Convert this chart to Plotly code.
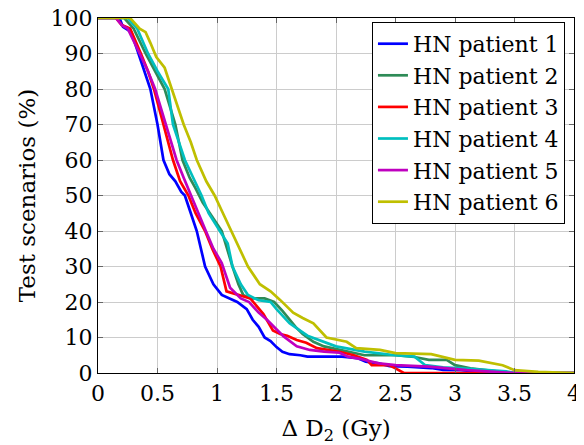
import plotly.graph_objects as go

names = ["HN patient 1", "HN patient 2", "HN patient 3", "HN patient 4", "HN patient 5", "HN patient 6"]
colors = ["#0000ff", "#2e8b57", "#ff0000", "#00bfbf", "#bf00bf", "#bfbf00"]

x1 = [0, 0.18, 0.21, 0.28, 0.34, 0.40, 0.44, 0.50, 0.55, 0.60, 0.65, 0.70, 0.73, 0.78, 0.83, 0.90, 0.97, 1.04, 1.10, 1.17, 1.25, 1.30, 1.35, 1.40, 1.45, 1.50, 1.55, 1.61, 1.70, 1.76, 1.90, 2.05, 2.18, 2.25, 2.36, 2.45, 2.6, 2.8, 2.9, 3.05, 3.2, 3.3, 4.0]
y1 = [100, 100, 97.5, 96, 90, 84, 80, 70, 60, 56, 54, 51, 50, 45, 40, 30, 25, 22, 21, 20, 18, 15, 13, 10, 9, 7.3, 6, 5.3, 5, 4.6, 4.6, 4.6, 4.2, 3.2, 2.7, 1.9, 1.8, 1.4, 0.9, 0.8, 0.4, 0, 0]

x2 = [0, 0.22, 0.3, 0.4, 0.56, 0.65, 0.71, 0.77, 0.82, 0.88, 0.94, 1.04, 1.13, 1.18, 1.22, 1.28, 1.4, 1.48, 1.55, 1.61, 1.66, 1.72, 1.81, 1.9, 2.03, 2.24, 2.5, 2.66, 2.78, 2.93, 3.0, 3.13, 3.35, 3.45, 4.0]
y2 = [100, 100, 97, 90, 80, 70, 60, 55, 52, 48, 45, 40, 30, 25, 22, 21, 21, 20, 17.5, 15, 13, 11, 8.8, 7.5, 6.5, 5, 5, 4.5, 3.7, 3.7, 2.2, 1.3, 0.5, 0, 0]

x3 = [0, 0.15, 0.2, 0.27, 0.36, 0.42, 0.47, 0.55, 0.63, 0.69, 0.76, 0.82, 0.9, 0.96, 1.0, 1.03, 1.08, 1.17, 1.28, 1.39, 1.47, 1.53, 1.59, 1.67, 1.75, 1.84, 1.95, 2.03, 2.15, 2.26, 2.3, 2.45, 2.5, 2.57, 4.0]
y3 = [100, 100, 98, 97, 90, 85, 80, 70, 60, 54, 50, 45, 40, 35, 32, 30, 23, 22, 21, 16.6, 12, 11, 10.5, 9.3, 8.5, 7, 6.5, 6, 5, 3.7, 2.2, 2.2, 1.3, 0, 0]

x4 = [0, 0.25, 0.33, 0.42, 0.5, 0.59, 0.63, 0.73, 0.80, 0.87, 0.93, 1.02, 1.09, 1.13, 1.2, 1.26, 1.35, 1.45, 1.5, 1.61, 1.76, 2.0, 2.24, 2.5, 2.66, 2.75, 2.9, 3.06, 3.25, 3.43, 3.5, 4.0]
y4 = [100, 100, 97, 90, 85, 80, 70, 60, 55, 50, 45, 40, 36.5, 30, 25, 22, 20.5, 20, 18, 14, 10.5, 7.5, 6, 5, 4.6, 2.2, 1.6, 1.3, 0.8, 0.5, 0, 0]

x5 = [0, 0.15, 0.2, 0.25, 0.35, 0.42, 0.48, 0.57, 0.66, 0.72, 0.78, 0.84, 0.90, 0.97, 1.04, 1.11, 1.2, 1.27, 1.35, 1.42, 1.48, 1.56, 1.67, 1.78, 1.9, 2.03, 2.1, 2.2, 2.36, 2.5, 2.78, 2.95, 3.1, 3.3, 3.5, 4.0]
y5 = [100, 100, 98, 97, 90, 85, 80, 70, 60, 55, 50, 45, 40.5, 35, 31, 24, 21, 20, 17, 15, 13, 10.3, 7.5, 6.5, 6, 5.7, 4.6, 4, 2.7, 2.2, 1.8, 1.2, 0.8, 0.4, 0, 0]

x6 = [0, 0.27, 0.35, 0.4, 0.44, 0.49, 0.56, 0.62, 0.67, 0.72, 0.78, 0.83, 0.91, 0.98, 1.05, 1.12, 1.17, 1.26, 1.36, 1.45, 1.53, 1.64, 1.72, 1.81, 1.92, 2.09, 2.17, 2.37, 2.5, 2.8, 3.0, 3.2, 3.4, 3.5, 3.7, 4.0]
y6 = [100, 100, 97, 96, 93, 89, 86, 80, 75, 70, 65, 60, 54, 50, 45, 40, 36.5, 30, 25, 23, 20.6, 17, 15.5, 14, 10, 8.8, 7, 6.5, 5.6, 5.3, 3.7, 3.5, 2.2, 0.8, 0.3, 0]

xs = [x1, x2, x3, x4, x5, x6]
ys = [y1, y2, y3, y4, y5, y6]

x_ticks = [0, 0.5, 1, 1.5, 2, 2.5, 3, 3.5, 4]
x_ticklabels = ["0", "0.5", "1", "1.5", "2", "2.5", "3", "3.5", "4"]
y_ticks = [0, 10, 20, 30, 40, 50, 60, 70, 80, 90, 100]

font_family = "DejaVu Serif"

fig = go.Figure()
for name, color, x, y in zip(names, colors, xs, ys):
    fig.add_trace(go.Scatter(x=x, y=y, mode="lines", name=name,
                             line=dict(color=color, width=2.7)))

# The page body adds an 8px offset, so the figure is 8px smaller in each direction
fig.update_layout(
    width=576, height=437,
    margin=dict(l=90, r=10, t=10, b=72, autoexpand=False),
    paper_bgcolor="white", plot_bgcolor="white",
    font=dict(family=font_family, size=22, color="black"),
    showlegend=True,
)
common = dict(
    showgrid=True, gridcolor="#cccccc", gridwidth=1,
    showline=True, linecolor="black", linewidth=1.2, mirror="ticks",
    ticks="inside", ticklen=5, tickcolor="#666666", zeroline=False,
    tickfont=dict(family=font_family, size=22, color="black"), automargin=False,
    ticklabeloverflow="allow",
)
fig.update_xaxes(
    range=[0, 4], tickvals=x_ticks, ticktext=x_ticklabels,
    title_text="Δ D<sub>2</sub> (Gy)", title_font=dict(family=font_family, size=23), title_standoff=18,
    **common,
)
fig.update_yaxes(
    range=[0, 100], tickvals=y_ticks,
    title_text="Test scenarios (%)", title_font=dict(family=font_family, size=23), title_standoff=8,
    **common,
)
fig.update_layout(
    legend=dict(x=0.981, y=0.989, xanchor="right", yanchor="top",
                bgcolor="white", bordercolor="black", borderwidth=1,
                font=dict(family=font_family, size=22, color="black"),
                tracegroupgap=0),
)

fig.write_html("out.html")
